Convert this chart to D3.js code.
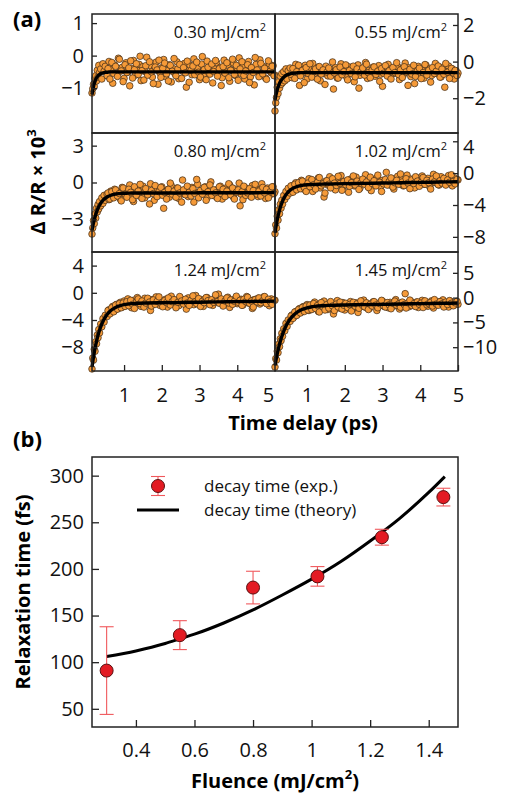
<!DOCTYPE html>
<html>
<head>
<meta charset="utf-8">
<script src="https://cdn.jsdelivr.net/npm/d3@7"></script>
<style>
	body { margin: 0; background: #fff; }
	svg { font-family: "Open Sans", sans-serif; }
</style>
</head>
<body>
<div id="chart"></div>
<script>

// ---- panel (a): pump-probe traces ----
const delays = [
	0.15,0.17,0.19,0.21,0.23,0.25,0.27,0.29,0.31,0.33,0.35,0.38,0.41,0.44,0.47,0.50,
	0.55,0.60,0.65,0.70,0.75,0.80,0.85,0.90,0.95,1.00,
	1.05,1.10,1.15,1.20,1.25,1.30,1.35,1.40,1.45,1.50,
	1.55,1.60,1.65,1.70,1.75,1.80,1.85,1.90,1.95,2.00,
	2.05,2.10,2.15,2.20,2.25,2.30,2.35,2.40,2.45,2.50,
	2.55,2.60,2.65,2.70,2.75,2.80,2.85,2.90,2.95,3.00,
	3.05,3.10,3.15,3.20,3.25,3.30,3.35,3.40,3.45,3.50,
	3.55,3.60,3.65,3.70,3.75,3.80,3.85,3.90,3.95,4.00,
	4.05,4.10,4.15,4.20,4.25,4.30,4.35,4.40,4.45,4.50,
	4.55,4.60,4.65,4.70,4.75,4.80,4.85,4.90,4.95,5.00
]

// second scan, shifted by half a step
const delays2 = [
	0.575,0.625,0.675,0.725,0.775,0.825,0.875,0.925,0.975,1.025,
	1.075,1.125,1.175,1.225,1.275,1.325,1.375,1.425,1.475,1.525,
	1.575,1.625,1.675,1.725,1.775,1.825,1.875,1.925,1.975,2.025,
	2.075,2.125,2.175,2.225,2.275,2.325,2.375,2.425,2.475,2.525,
	2.575,2.625,2.675,2.725,2.775,2.825,2.875,2.925,2.975,3.025,
	3.075,3.125,3.175,3.225,3.275,3.325,3.375,3.425,3.475,3.525,
	3.575,3.625,3.675,3.725,3.775,3.825,3.875,3.925,3.975,4.025,
	4.075,4.125,4.175,4.225,4.275,4.325,4.375,4.425,4.475,4.525,
	4.575,4.625,4.675,4.725,4.775,4.825,4.875,4.925,4.975
]

const signal030 = [
	-1.15,-1.02,-0.88,-0.95,-0.70,-0.62,-0.78,-0.45,-0.66,-0.30,-0.52,-0.41,-0.72,-0.25,-0.48,-0.33,
	-0.62,-0.18,-0.41,-0.85,-0.29,-0.55,-0.08,-0.47,-0.36,-0.70,
	-0.22,-0.51,-0.93,-0.39,-0.15,-0.60,-0.44,-0.27,-0.77,-0.34,
	-0.49,-0.05,-0.58,-0.31,-0.66,-0.42,-0.20,-0.88,-0.53,-0.37,
	-0.12,-0.64,-0.45,-0.28,-0.81,-0.40,-0.56,-0.19,-0.71,-0.35,
	-0.48,-0.24,-0.97,-0.43,-0.30,-0.59,-0.10,-0.52,-0.38,-0.74,
	-0.26,-0.46,-0.63,-0.17,-0.54,-0.33,-0.84,-0.41,-0.21,-0.57,
	-0.36,-0.68,-0.14,-0.50,-0.29,-0.79,-0.44,-0.23,-0.61,-0.39,
	-0.07,-0.55,-0.32,-0.72,-0.46,-0.18,-0.65,-0.37,-0.90,-0.27,
	-0.49,-0.13,-0.58,-0.34,-0.69,-0.42,-0.25,-0.53,-0.31,-0.60
]
const signal030b = [
	-0.40,-0.72,-0.21,-0.55,-0.33,-0.64,-0.11,-0.47,-0.80,-0.28,
	-0.52,-0.38,-0.16,-0.69,-0.43,-0.25,-0.58,-0.02,-0.46,-0.75,
	-0.31,-0.60,-0.19,-0.50,-0.86,-0.35,-0.44,-0.14,-0.67,-0.39,
	-0.23,-0.56,-0.78,-0.30,-0.48,-0.09,-0.62,-0.41,-0.27,-0.70,
	-0.37,-0.53,-0.17,-0.82,-0.45,-0.32,-0.59,-0.20,-0.51,-0.66,
	-0.03,-0.43,-0.74,-0.36,-0.57,-0.26,-0.49,-0.15,-0.63,-0.40,
	-0.92,-0.34,-0.54,-0.22,-0.68,-0.45,-0.11,-0.58,-0.30,-0.76,
	-0.41,-0.19,-0.61,-0.47,-0.28,-0.83,-0.37,-0.52,-0.06,-0.44,
	-0.65,-0.24,-0.56,-0.39,-0.73,-0.16,-0.48,-0.33,-0.62
]

const signal055 = [
	-2.70,-2.25,-1.95,-1.40,-1.75,-1.10,-1.45,-0.80,-1.25,-0.65,-1.15,-0.55,-1.05,-0.40,-0.95,-0.50,
	-0.35,-0.88,-0.52,-0.15,-0.72,-1.30,-0.45,-0.61,-0.20,-0.95,
	-0.40,-0.68,-0.10,-0.83,-0.55,-0.30,-1.05,-0.48,-0.66,-0.25,
	-0.78,-0.42,-0.58,-1.50,-0.33,-0.90,-0.50,-0.12,-0.70,-0.45,
	-0.85,-0.28,-0.62,-0.40,-1.10,-0.55,-0.18,-0.75,-0.38,-0.64,
	-0.05,-0.92,-0.47,-0.60,-0.30,-0.80,-0.52,-0.22,-0.69,-1.35,
	-0.44,-0.58,-0.15,-0.86,-0.36,-0.65,-0.50,-0.27,-0.98,-0.41,
	-0.73,-0.08,-0.56,-0.34,-0.82,-0.48,-1.20,-0.62,-0.26,-0.70,
	-0.43,-0.90,-0.19,-0.57,-0.38,-0.76,-0.52,-0.10,-0.66,-0.46,
	-0.84,-0.31,-1.40,-0.55,-0.24,-0.72,-0.40,-0.95,-0.50,-0.63
]
const signal055b = [
	-0.70,-0.38,-0.92,-0.55,-0.20,-0.78,-0.48,-1.15,-0.33,-0.64,
	-0.12,-0.85,-0.52,-0.40,-0.96,-0.27,-0.68,-0.45,-1.25,-0.58,
	-0.35,-0.80,-0.02,-0.62,-0.44,-0.90,-0.30,-0.72,-0.55,-0.18,
	-1.00,-0.48,-0.66,-0.25,-0.83,-0.40,-1.45,-0.57,-0.35,-0.74,
	-0.14,-0.61,-0.88,-0.46,-0.29,-0.70,-0.52,-1.08,-0.38,-0.64,
	-0.22,-0.79,-0.50,-0.95,-0.32,-0.60,-0.06,-0.71,-0.45,-0.87,
	-0.28,-0.56,-1.30,-0.42,-0.68,-0.20,-0.81,-0.50,-0.36,-0.93,
	-0.60,-0.16,-0.74,-0.47,-1.12,-0.33,-0.65,-0.52,-0.24,-0.85,
	-0.41,-0.69,-0.10,-0.58,-0.92,-0.37,-0.62,-0.48,-0.76
]

const signal080 = [
	-4.20,-3.70,-3.10,-3.35,-2.55,-2.90,-2.10,-2.40,-1.80,-2.15,-1.55,-1.90,-1.25,-1.70,-1.05,-1.45,
	-0.95,-1.40,-0.70,-1.20,-0.55,-1.05,-0.80,-1.35,-0.40,-0.90,
	-1.15,-0.60,-0.20,-1.00,-1.55,-0.75,-0.45,-1.10,-0.85,-0.30,
	-1.25,-0.65,-0.95,-0.10,-0.80,-1.45,-0.50,-1.05,-0.70,-0.35,
	-2.10,-0.90,-0.60,-1.20,-0.25,-0.85,-1.00,-0.45,-1.30,-0.70,
	0.20,-0.95,-0.55,-1.15,-0.75,-0.40,-1.60,-0.80,-0.15,-1.05,
	-0.65,-0.90,-0.35,-1.25,-0.50,0.05,-0.85,-1.10,-0.60,-0.95,
	-0.30,-1.35,-0.75,-0.45,-1.00,-0.20,-0.80,-1.20,-0.55,-0.70,
	-0.05,-0.95,-1.40,-0.40,-0.85,-0.65,-1.10,-0.25,-0.90,-0.50,
	-1.15,-0.60,-0.10,-0.80,-1.30,-0.45,-0.70,-0.95,-0.35,-0.75
]
const signal080b = [
	-0.85,-1.35,-0.75,-1.25,-0.60,-1.10,-0.90,-1.50,-0.45,-0.95,
	-1.20,-0.55,-0.80,-1.40,-0.35,-1.05,-0.70,-0.15,-1.30,-0.85,
	-0.50,-1.00,-1.75,-0.65,-0.90,-0.25,-1.15,-0.75,-0.40,-1.05,
	-0.80,-1.35,-0.55,-0.05,-0.95,-0.70,-1.20,-0.45,-0.85,-1.60,
	-0.60,-1.00,-0.30,-0.80,-1.10,-0.50,-0.90,0.25,-1.25,-0.65,
	-0.95,-0.40,-1.45,-0.75,-0.20,-1.05,-0.60,-0.85,-1.30,-0.35,
	-0.90,-0.55,-1.15,-0.70,-0.10,-1.00,-0.45,-1.35,-0.80,-0.60,
	-1.90,-0.75,-0.30,-1.05,-0.85,-0.50,-1.20,-0.65,-0.15,-0.95,
	-0.70,-1.10,-0.40,-0.85,-0.55,-1.25,-0.75,-0.35,-0.90
]

const signal102 = [
	-7.60,-6.50,-6.90,-5.40,-5.90,-4.60,-5.10,-3.90,-4.40,-3.40,-3.90,-2.80,-3.30,-2.30,-2.90,-1.90,
	-2.50,-1.60,-2.20,-1.20,-1.90,-1.45,-0.90,-2.00,-1.30,-1.70,
	-0.70,-1.55,-2.30,-1.10,-1.40,-0.60,-1.85,-1.25,-3.00,-1.00,
	-1.50,-0.45,-1.65,-1.15,-2.10,-0.85,-1.35,-0.30,-1.75,-1.05,
	-1.45,-2.40,-0.75,-1.20,-1.60,-0.50,-1.30,-1.90,-0.95,-1.10,
	-0.20,-1.55,-1.25,-2.20,-0.80,-1.40,-0.60,-1.15,-1.70,-0.90,
	-1.30,0.10,-1.05,-1.50,-0.70,-2.00,-1.20,-0.40,-1.35,-0.85,
	-1.60,-1.00,-0.25,-1.45,-0.75,-1.15,-1.85,-0.55,-1.25,-0.95,
	-0.35,-1.40,-1.05,-0.65,-1.70,-0.90,-0.15,-1.20,-0.80,-1.50,
	-0.45,-1.10,-0.70,-1.35,-0.30,-0.95,-1.60,-0.60,-1.00,-0.85
]
const signal102b = [
	-1.60,-2.40,-1.40,-2.10,-1.20,-1.95,-1.00,-1.80,-2.30,-1.25,
	-1.70,-0.80,-1.45,-2.00,-1.15,-0.55,-1.60,-1.35,-2.50,-0.95,
	-1.40,-1.85,-0.70,-1.25,-1.55,-0.40,-1.30,-2.15,-1.05,-1.45,
	-0.85,-1.65,-1.20,-0.35,-1.50,-1.00,-2.05,-1.25,-0.75,-1.40,
	-1.10,-1.80,-0.50,-1.30,-0.95,-1.60,-0.25,-1.15,-2.30,-1.35,
	-0.80,-1.50,-1.05,-0.60,-1.75,-1.20,-0.90,-1.40,-0.10,-1.10,
	-1.55,-0.70,-1.25,-1.95,-0.85,-1.30,-0.45,-1.00,-1.65,-1.15,
	-0.55,-1.40,-0.90,-1.20,-2.00,-0.75,-1.10,-0.35,-1.45,-0.95,
	-1.25,-0.65,-1.50,-0.85,-1.15,-0.20,-1.05,-1.35,-0.80
]

const signal124 = [
	-11.20,-9.60,-9.90,-8.30,-8.60,-7.20,-7.50,-6.20,-6.60,-5.40,-5.90,-4.60,-5.00,-3.80,-4.30,-3.30,
	-3.50,-2.50,-2.90,-2.00,-2.60,-1.70,-2.30,-1.40,-2.10,-1.20,
	-1.80,-0.90,-1.50,-2.20,-1.10,-1.60,-0.70,-1.35,-2.00,-1.20,
	-0.80,-1.70,-1.40,-2.60,-1.00,-1.55,-0.60,-1.30,-1.85,-1.15,
	-1.45,-0.95,-2.10,-1.25,-0.50,-1.65,-1.35,-1.05,-1.90,-0.85,
	-1.50,-1.20,-2.40,-0.75,-1.40,-1.10,-1.75,-0.40,-1.30,-1.60,
	-1.00,-2.00,-1.25,-0.70,-1.55,-1.15,-1.85,-0.90,-1.35,-0.20,
	-1.45,-1.05,-1.70,-1.25,-0.65,-2.15,-1.10,-1.40,-0.85,-1.60,
	-1.20,-0.95,-1.80,-1.30,-0.55,-1.50,-1.15,-2.30,-1.00,-1.35,
	-0.80,-1.65,-1.20,-0.60,-1.45,-1.05,-1.90,-0.90,-1.25,-1.10
]
const signal124b = [
	-2.60,-3.10,-2.20,-2.80,-1.80,-2.40,-1.60,-2.20,-1.50,-2.00,
	-1.30,-1.90,-1.10,-1.70,-2.30,-1.40,-0.90,-1.60,-1.20,-2.10,
	-1.50,-0.80,-1.35,-1.95,-1.05,-1.70,-1.25,-0.60,-1.55,-2.05,
	-1.15,-1.45,-0.75,-1.80,-1.30,-1.00,-2.20,-1.40,-0.55,-1.20,
	-1.65,-0.95,-1.50,-1.85,-1.10,-0.45,-1.35,-1.60,-0.85,-2.00,
	-1.25,-1.45,-0.70,-1.15,-1.75,-1.00,-1.40,-0.30,-1.30,-1.55,
	-0.90,-1.95,-1.20,-0.75,-1.50,-1.05,-1.70,-1.25,-0.50,-1.40,
	-1.10,-1.85,-0.95,-1.30,-0.65,-1.55,-1.20,-2.10,-1.00,-1.35,
	-0.75,-1.45,-1.15,-0.55,-1.60,-0.95,-1.30,-1.70,-1.05
]

const signal145 = [
	-14.00,-12.30,-12.60,-10.80,-11.10,-9.40,-9.90,-8.30,-8.70,-7.20,-7.80,-6.30,-6.70,-5.20,-5.80,-4.50,
	-4.80,-3.50,-3.90,-2.80,-3.30,-2.20,-2.90,-1.80,-2.50,-1.40,
	-2.60,-1.50,-2.20,-0.90,-1.80,-2.80,-1.30,-2.00,-0.70,-1.60,
	-2.40,-1.10,-1.90,-3.30,-1.40,-0.60,-2.10,-1.70,-1.00,-2.50,
	-1.25,-1.85,-0.80,-2.30,-1.55,-1.05,-3.00,-1.35,-1.75,-0.50,
	-1.95,-1.20,-2.20,-1.45,-0.85,-1.65,-2.60,-1.10,-1.50,-0.70,
	-1.80,-1.30,-2.05,-0.95,-1.40,-1.70,-0.40,-1.25,-2.30,-1.05,
	-1.55,0.80,-1.15,-1.85,-0.75,-1.35,-1.60,-0.90,-2.00,-1.20,
	-0.55,-1.45,-1.00,-1.75,-1.25,-0.65,-2.10,-1.10,-1.40,-0.85,
	-1.30,-0.45,-1.60,-1.05,-1.90,-0.70,-1.20,-1.50,-0.95,-1.35
]
const signal145b = [
	-3.70,-4.20,-2.90,-3.60,-2.40,-3.10,-2.00,-2.80,-1.70,-2.50,
	-1.50,-2.40,-1.20,-2.20,-1.60,-2.90,-1.00,-1.90,-2.50,-1.40,
	-2.10,-0.80,-1.70,-2.60,-1.30,-1.90,-0.90,-2.30,-1.55,-1.15,
	-2.00,-1.40,-2.70,-0.95,-1.75,-1.25,-2.15,-0.65,-1.60,-1.85,
	-1.05,-2.40,-1.35,-1.70,-0.80,-1.50,-2.05,-1.20,-0.55,-1.65,
	-1.90,-1.00,-1.45,-2.25,-1.15,-0.70,-1.55,-1.30,-1.95,-0.90,
	-1.40,-2.10,-1.05,-0.50,-1.60,-1.25,-1.80,-0.85,-1.35,-1.10,
	-2.00,-0.65,-1.45,-1.20,-0.95,-1.70,-0.40,-1.30,-1.55,-0.80,
	-1.25,-1.90,-0.90,-1.40,-0.60,-1.15,-1.65,-1.05,-0.75
]

// fitted curves
const fitDelays = [0.15,0.17,0.19,0.21,0.23,0.25,0.27,0.29,0.31,0.33,0.35,0.38,0.41,0.44,0.47,0.50,
	0.55,0.60,0.65,0.70,0.75,0.80,0.85,0.90,1.0,1.1,1.2,1.4,1.6,2.0,2.5,3.0,3.5,4.0,4.5,5.0]
const fit030 = [-1.20,-1.06,-0.95,-0.86,-0.79,-0.73,-0.68,-0.65,-0.62,-0.59,-0.58,-0.55,-0.54,-0.53,-0.52,-0.51,
	-0.51,-0.50,-0.50,-0.50,-0.50,-0.50,-0.50,-0.50,-0.50,-0.50,-0.50,-0.50,-0.50,-0.50,-0.50,-0.50,-0.50,-0.50,-0.50,-0.50]
const fit055 = [-2.10,-1.88,-1.70,-1.54,-1.40,-1.29,-1.19,-1.10,-1.03,-0.97,-0.92,-0.85,-0.80,-0.76,-0.72,-0.70,
	-0.67,-0.64,-0.63,-0.62,-0.61,-0.61,-0.60,-0.60,-0.60,-0.60,-0.60,-0.60,-0.60,-0.60,-0.60,-0.60,-0.60,-0.60,-0.60,-0.60]
const fit080 = [-3.90,-3.58,-3.29,-3.04,-2.81,-2.60,-2.41,-2.25,-2.10,-1.97,-1.85,-1.70,-1.57,-1.46,-1.37,-1.29,
	-1.18,-1.10,-1.04,-0.99,-0.96,-0.93,-0.91,-0.90,-0.88,-0.87,-0.86,-0.85,-0.85,-0.85,-0.85,-0.84,-0.84,-0.83,-0.83,-0.82]
const fit102 = [-7.50,-6.89,-6.34,-5.85,-5.40,-5.01,-4.65,-4.32,-4.03,-3.77,-3.53,-3.22,-2.96,-2.72,-2.53,-2.37,
	-2.14,-1.97,-1.84,-1.74,-1.66,-1.60,-1.55,-1.51,-1.46,-1.43,-1.41,-1.38,-1.36,-1.32,-1.28,-1.24,-1.20,-1.16,-1.12,-1.08]
const fit124 = [-10.90,-10.13,-9.42,-8.78,-8.18,-7.63,-7.13,-6.67,-6.25,-5.85,-5.50,-5.02,-4.59,-4.23,-3.90,-3.61,
	-3.20,-2.87,-2.61,-2.39,-2.22,-2.08,-1.97,-1.89,-1.75,-1.66,-1.60,-1.53,-1.50,-1.46,-1.42,-1.38,-1.34,-1.30,-1.26,-1.22]
const fit145 = [-13.70,-12.85,-12.05,-11.32,-10.63,-9.99,-9.40,-8.84,-8.33,-7.86,-7.41,-6.80,-6.26,-5.77,-5.33,-4.93,
	-4.37,-3.89,-3.50,-3.16,-2.89,-2.66,-2.46,-2.31,-2.06,-1.89,-1.77,-1.63,-1.56,-1.48,-1.42,-1.36,-1.28,-1.21,-1.15,-1.10]

const delayTicks = [1, 2, 3, 4, 5]
const yTicks030 = [-1, 0, 1]
const yTicks055 = [-2, 0, 2]
const yTicks080 = [-3, 0, 3]
const yTicks102 = [-8, -4, 0, 4]
const yTicks124 = [-8, -4, 0, 4]
const yTicks145 = [-10, -5, 0, 5]

// ---- panel (b): relaxation time vs fluence ----
const fluences = [0.30, 0.55, 0.80, 1.02, 1.24, 1.45]
const decayTimes = [91, 129, 180, 192, 234, 277]
const decayErrors = [47, 15.5, 17.5, 10.5, 8.5, 9.5]
const theoryFluence = [0.30,0.40,0.50,0.55,0.60,0.70,0.80,0.90,1.00,1.10,1.20,1.30,1.40,1.455]
const theoryTime = [106,112,120,125,130,142,156,172,189,208,230,254,282,299]
const fluenceTicks = [0.4, 0.6, 0.8, 1.0, 1.2, 1.4]
const relaxTicks = [50, 100, 150, 200, 250, 300]


const svg = d3.select("#chart").append("svg")
	.attr("width", 508)
	.attr("height", 795)

function styleAxis(g) {
	g.select(".domain").remove()
	g.selectAll(".tick line").attr("stroke", "#222").attr("stroke-width", 1.3)
	g.selectAll(".tick text").attr("font-size", 20).attr("fill", "#111")
		.attr("font-family", "'Open Sans', sans-serif")
}

class DecayPanel {

	constructor(svg, fluence, values, values2, fit, yTicks, yDomain, col, row) {
		this.svg = svg
		this.fluence = fluence
		this.values = values
		this.values2 = values2
		this.fit = fit
		this.yTicks = yTicks
		this.yDomain = yDomain
		this.col = col
		this.row = row
		this.initVis()
	}

	initVis() {
		let vis = this

		vis.x0 = vis.col ? 275 : 92
		vis.x1 = vis.col ? 458 : 275
		vis.y0 = 14 + vis.row * 119
		vis.y1 = vis.y0 + 119

		vis.xScale = d3.scaleLinear().domain([0.15, 5]).range([vis.x0, vis.x1])
		vis.yScale = d3.scaleLinear().domain(vis.yDomain).range([vis.y1, vis.y0])

		vis.g = vis.svg.append("g")

		let points = vis.values.map((v, i) => ({t: delays[i], v: v}))
			.concat(vis.values2.map((v, i) => ({t: delays2[i], v: v})))
		vis.g.selectAll("circle")
			.data(points)
			.enter()
			.append("circle")
			.attr("cx", d => vis.xScale(d.t))
			.attr("cy", d => vis.yScale(d.v))
			.attr("r", 3.3)
			.attr("fill", "#f59a38")
			.attr("stroke", "#47301a")
			.attr("stroke-width", 0.75)

		let fitLine = fitDelays.map((t, i) => ({t: t, v: vis.fit[i]}))
		vis.g.append("path")
			.datum(fitLine)
			.attr("fill", "none")
			.attr("stroke", "#000")
			.attr("stroke-width", 3.4)
			.attr("d", d3.line()
				.curve(d3.curveMonotoneX)
				.x(d => vis.xScale(d.t))
				.y(d => vis.yScale(d.v)))

		vis.g.append("rect")
			.attr("x", vis.x0).attr("y", vis.y0)
			.attr("width", vis.x1 - vis.x0).attr("height", vis.y1 - vis.y0)
			.attr("fill", "none")
			.attr("stroke", "#222")
			.attr("stroke-width", 1.5)

		// y axis, ticks pointing into the panel
		let yAxis = vis.col
			? d3.axisRight(vis.yScale).tickSize(-5).tickPadding(5)
			: d3.axisLeft(vis.yScale).tickSize(-5).tickPadding(8)
		yAxis.tickValues(vis.yTicks).tickFormat(d3.format("d"))
		let yg = vis.g.append("g")
			.attr("transform", `translate(${vis.col ? vis.x1 : vis.x0},0)`)
			.call(yAxis)
			.call(styleAxis)
		// top label sitting too close to the frame is pushed down a bit
		yg.selectAll(".tick text")
			.filter(d => vis.yScale(d) - vis.y0 < 8.8)
			.attr("dy", "0.6em")

		if (vis.row == 2) {
			let xAxis = d3.axisBottom(vis.xScale)
				.tickValues(delayTicks)
				.tickFormat(d3.format("d"))
				.tickSize(-6)
				.tickPadding(17)
			let xg = vis.g.append("g")
				.attr("transform", `translate(0,${vis.y1})`)
				.call(xAxis)
				.call(styleAxis)
			if (!vis.col) {
				xg.selectAll(".tick text").filter(d => d == 5).attr("dx", -7)
			}
		}

		let label = vis.g.append("text")
			.attr("x", vis.x1 - (vis.col ? 11 : 9))
			.attr("y", vis.y0 + 24)
			.attr("text-anchor", "end")
			.attr("font-size", 16.5)
			.attr("fill", "#111")
		label.append("tspan").text(d3.format(".2f")(vis.fluence) + " mJ/cm")
		label.append("tspan").attr("font-size", 11).attr("dy", -7).text("2")
	}
}

class FluencePlot {

	constructor(svg) {
		this.svg = svg
		this.initVis()
	}

	initVis() {
		let vis = this

		vis.margin = {top: 457, right: 50, bottom: 68, left: 92}
		vis.width = 508 - vis.margin.left - vis.margin.right
		vis.height = 795 - vis.margin.top - vis.margin.bottom

		vis.g = vis.svg.append("g")
			.attr("transform", `translate(${vis.margin.left},${vis.margin.top})`)

		vis.xScale = d3.scaleLinear().domain([0.25, 1.5]).range([0, vis.width])
		vis.yScale = d3.scaleLinear().domain([30.5, 320]).range([vis.height, 0])

		// theory curve
		vis.g.append("path")
			.datum(theoryFluence.map((f, i) => ({f: f, v: theoryTime[i]})))
			.attr("fill", "none")
			.attr("stroke", "#000")
			.attr("stroke-width", 3)
			.attr("d", d3.line()
				.curve(d3.curveMonotoneX)
				.x(d => vis.xScale(d.f))
				.y(d => vis.yScale(d.v)))

		let points = fluences.map((f, i) => ({f: f, v: decayTimes[i], e: decayErrors[i]}))

		let bars = vis.g.selectAll(".err")
			.data(points)
			.enter()
			.append("g")
			.attr("class", "err")
			.attr("stroke", "#f0585c")
			.attr("stroke-width", 1.1)
		bars.append("line")
			.attr("x1", d => vis.xScale(d.f)).attr("x2", d => vis.xScale(d.f))
			.attr("y1", d => vis.yScale(d.v - d.e)).attr("y2", d => vis.yScale(d.v + d.e))
		bars.append("line")
			.attr("x1", d => vis.xScale(d.f) - 7).attr("x2", d => vis.xScale(d.f) + 7)
			.attr("y1", d => vis.yScale(d.v + d.e)).attr("y2", d => vis.yScale(d.v + d.e))
		bars.append("line")
			.attr("x1", d => vis.xScale(d.f) - 7).attr("x2", d => vis.xScale(d.f) + 7)
			.attr("y1", d => vis.yScale(d.v - d.e)).attr("y2", d => vis.yScale(d.v - d.e))

		vis.g.selectAll(".dot")
			.data(points)
			.enter()
			.append("circle")
			.attr("class", "dot")
			.attr("cx", d => vis.xScale(d.f))
			.attr("cy", d => vis.yScale(d.v))
			.attr("r", 6.5)
			.attr("fill", "#e31b23")
			.attr("stroke", "#5a1212")
			.attr("stroke-width", 1)

		vis.g.append("rect")
			.attr("width", vis.width).attr("height", vis.height)
			.attr("fill", "none")
			.attr("stroke", "#222")
			.attr("stroke-width", 1.5)

		vis.g.append("g")
			.attr("transform", `translate(0,${vis.height})`)
			.call(d3.axisBottom(vis.xScale)
				.tickValues(fluenceTicks)
				.tickSize(-7)
				.tickPadding(16)
				.tickFormat(d => d == 1 ? "1" : d3.format(".1f")(d)))
			.call(styleAxis)

		vis.g.append("g")
			.call(d3.axisLeft(vis.yScale)
				.tickValues(relaxTicks)
				.tickSize(-7)
				.tickPadding(8)
				.tickFormat(d3.format("d")))
			.call(styleAxis)

		// legend
		let lg = vis.g.append("g").attr("transform", "translate(66,29)")
		lg.append("line").attr("y1", -9.5).attr("y2", 9.5)
			.attr("stroke", "#f0585c").attr("stroke-width", 1.1)
		lg.selectAll(".cap").data([-9.5, 9.5]).enter().append("line")
			.attr("x1", -7).attr("x2", 7).attr("y1", d => d).attr("y2", d => d)
			.attr("stroke", "#f0585c").attr("stroke-width", 1.1)
		lg.append("circle").attr("r", 6.5)
			.attr("fill", "#e31b23").attr("stroke", "#5a1212").attr("stroke-width", 1)
		lg.append("line").attr("x1", -21).attr("x2", 21).attr("y1", 24).attr("y2", 24)
			.attr("stroke", "#000").attr("stroke-width", 3)
		lg.append("text").attr("x", 46).attr("y", 6).attr("font-size", 17).attr("fill", "#111")
			.text("decay time (exp.)")
		lg.append("text").attr("x", 46).attr("y", 30).attr("font-size", 17).attr("fill", "#111")
			.text("decay time (theory)")
	}
}

// build panel (a)
const traces = [
	{fluence: fluences[0], values: signal030, values2: signal030b, fit: fit030, ticks: yTicks030, domain: [-2.38, 1.28]},
	{fluence: fluences[1], values: signal055, values2: signal055b, fit: fit055, ticks: yTicks055, domain: [-3.9, 2.6]},
	{fluence: fluences[2], values: signal080, values2: signal080b, fit: fit080, ticks: yTicks080, domain: [-5.66, 4.03]},
	{fluence: fluences[3], values: signal102, values2: signal102b, fit: fit102, ticks: yTicks102, domain: [-9.9, 5.04]},
	{fluence: fluences[4], values: signal124, values2: signal124b, fit: fit124, ticks: yTicks124, domain: [-11.5, 6.0]},
	{fluence: fluences[5], values: signal145, values2: signal145b, fit: fit145, ticks: yTicks145, domain: [-14.8, 9.2]}
]
traces.forEach((d, i) => new DecayPanel(svg, d.fluence, d.values, d.values2, d.fit, d.ticks, d.domain, i % 2, Math.floor(i / 2)))

new FluencePlot(svg)

// titles
svg.append("text").attr("x", 13).attr("y", 27).attr("font-size", 22).attr("font-weight", "bold").text("(a)")
svg.append("text").attr("x", 13).attr("y", 447).attr("font-size", 22).attr("font-weight", "bold").text("(b)")

svg.append("text")
	.attr("x", 303).attr("y", 430)
	.attr("text-anchor", "middle")
	.attr("font-size", 20).attr("font-weight", "bold")
	.text("Time delay (ps)")

let dr = svg.append("text")
	.attr("transform", "translate(45,182) rotate(-90)")
	.attr("text-anchor", "middle")
	.attr("font-size", 20).attr("font-weight", "bold")
dr.append("tspan").text("Δ R/R × 10")
dr.append("tspan").attr("font-size", 13).attr("dy", -9).text("3")

svg.append("text")
	.attr("transform", "translate(30,592) rotate(-90)")
	.attr("text-anchor", "middle")
	.attr("font-size", 20).attr("font-weight", "bold")
	.text("Relaxation time (fs)")

let fl = svg.append("text")
	.attr("x", 275).attr("y", 788)
	.attr("text-anchor", "middle")
	.attr("font-size", 20).attr("font-weight", "bold")
fl.append("tspan").text("Fluence (mJ/cm")
fl.append("tspan").attr("font-size", 13).attr("dy", -9).text("2")
fl.append("tspan").attr("dy", 9).text(")")

</script>
</body>
</html>
